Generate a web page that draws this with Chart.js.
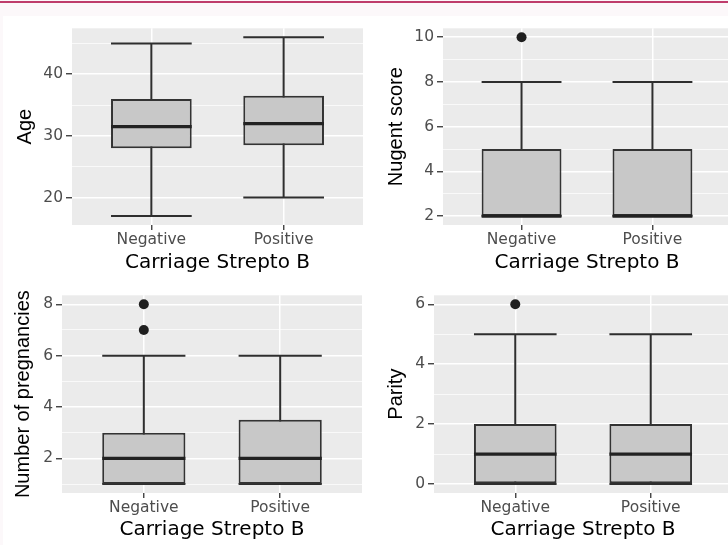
<!DOCTYPE html>
<html>
<head>
<meta charset="utf-8">
<script src="https://cdn.jsdelivr.net/npm/chart.js@4.4.1/dist/chart.umd.min.js"></script>
<style>
  html, body { margin: 0; padding: 0; }
  body { width: 728px; height: 545px; overflow: hidden; background: #fcf8fa; position: relative; }
  .topline { position: absolute; left: 0; top: 1px; width: 728px; height: 2px; background: #bf3d6c; }
  .sheet { position: absolute; left: 3px; top: 16px; width: 725px; height: 529px; background: #fff; }
  canvas { position: absolute; }
</style>
</head>
<body>
<div class="topline"></div>
<div class="sheet"></div>
<canvas id="age"></canvas>
<canvas id="nugent"></canvas>
<canvas id="preg"></canvas>
<canvas id="parity"></canvas>
<script>
const categories = ['Negative', 'Positive'];
const xTitle = 'Carriage Strepto B';

// Age
const ageLow = [17, 20];
const ageQ1 = [28, 28.5];
const ageMedian = [31.5, 32];
const ageQ3 = [36, 36.5];
const ageHigh = [45, 46];
const ageOutliers = [[], []];
const ageTicks = [20, 30, 40];

// Nugent score
const nugentLow = [2, 2];
const nugentQ1 = [2, 2];
const nugentMedian = [2, 2];
const nugentQ3 = [5, 5];
const nugentHigh = [8, 8];
const nugentOutliers = [[10], []];
const nugentTicks = [2, 4, 6, 8, 10];

// Number of pregnancies
const pregLow = [1, 1];
const pregQ1 = [1, 1];
const pregMedian = [2, 2];
const pregQ3 = [3, 3.5];
const pregHigh = [6, 6];
const pregOutliers = [[7, 8], []];
const pregTicks = [2, 4, 6, 8];

// Parity
const parityLow = [0, 0];
const parityQ1 = [0, 0];
const parityMedian = [1, 1];
const parityQ3 = [2, 2];
const parityHigh = [5, 5];
const parityOutliers = [[6], []];
const parityTicks = [0, 2, 4, 6];

const tickFont = { family: "'DejaVu Sans', sans-serif", size: 15.5 };
const titleFontX = { family: "'DejaVu Sans', sans-serif", size: 20 };
const titleFontY = { family: "'Liberation Sans', Arial, sans-serif", size: 20 };

const boxParts = {
  id: 'boxParts',
  beforeDraw(chart) {
    const a = chart.chartArea;
    const c = chart.ctx;
    c.save();
    c.fillStyle = '#ebebeb';
    c.fillRect(a.left, a.top, a.width, a.height);
    c.restore();
  },
  beforeDatasetsDraw(chart, args, opts) {
    const c = chart.ctx;
    const y = chart.scales.y;
    const bars = chart.getDatasetMeta(0).data;
    c.save();
    c.strokeStyle = '#2e2e2e';
    c.lineWidth = 2;
    bars.forEach((bar, i) => {
      const half = bar.width / 2;
      const yl = y.getPixelForValue(opts.low[i]);
      const yh = y.getPixelForValue(opts.high[i]);
      c.beginPath();
      c.moveTo(bar.x, yl); c.lineTo(bar.x, yh);
      c.moveTo(bar.x - half, yl); c.lineTo(bar.x + half, yl);
      c.moveTo(bar.x - half, yh); c.lineTo(bar.x + half, yh);
      c.stroke();
    });
    c.restore();
  },
  afterDatasetDraw(chart, args, opts) {
    if (args.index !== 0) return;
    const c = chart.ctx;
    const y = chart.scales.y;
    c.save();
    c.strokeStyle = '#222222';
    c.lineWidth = 3.2;
    chart.getDatasetMeta(0).data.forEach((bar, i) => {
      const half = bar.width / 2;
      const ym = y.getPixelForValue(opts.median[i]);
      c.beginPath();
      c.moveTo(bar.x - half, ym); c.lineTo(bar.x + half, ym);
      c.stroke();
    });
    c.restore();
  }
};

function boxChart(id, g, s, majors, yTitle) {
  const canvas = document.getElementById(id);
  canvas.width = g.w; canvas.height = g.h;
  canvas.style.left = g.left + 'px';
  canvas.style.top = g.top + 'px';

  // ggplot style 5% expansion over all drawn values
  const all = s.low.concat(s.high, ...s.out);
  const lo = Math.min(...all), hi = Math.max(...all);
  const pad = (hi - lo) * 0.05;
  const yMin = lo - pad, yMax = hi + pad;

  const step = majors[1] - majors[0];
  const yTicks = [];
  for (let v = majors[0] - step / 2; v <= majors[majors.length - 1] + step / 2 + 1e-9; v += step / 2) {
    if (v >= yMin && v <= yMax) yTicks.push(v);
  }
  const isMajor = (v) => majors.some(m => Math.abs(m - v) < 1e-9);

  const boxData = categories.map((c, i) => ({ x: i + 1, y: [s.q1[i], s.q3[i]] }));
  const outData = [];
  s.out.forEach((list, i) => list.forEach(v => outData.push({ x: i + 1, y: v })));

  return new Chart(canvas, {
    type: 'bar',
    data: {
      datasets: [{
        data: boxData,
        backgroundColor: '#c8c8c8',
        borderColor: '#333333',
        borderWidth: 2,
        borderSkipped: false,
        categoryPercentage: 1,
        barPercentage: 0.61
      }, {
        type: 'scatter',
        data: outData,
        pointRadius: 5,
        pointBackgroundColor: '#1f1f1f',
        pointBorderWidth: 0
      }]
    },
    options: {
      responsive: false,
      animation: false,
      events: [],
      layout: { padding: { left: 0, top: g.area.t - g.top, right: g.left + g.w - g.area.r, bottom: 0 } },
      plugins: {
        legend: { display: false },
        tooltip: { enabled: false },
        boxParts: { low: s.low, high: s.high, median: s.median }
      },
      scales: {
        x: {
          type: 'linear',
          offset: false,
          min: 0.4,
          max: 2.6,
          afterBuildTicks: (sc) => { sc.ticks = categories.map((c, i) => ({ value: i + 1 })); },
          afterFit: (sc) => { sc.height = g.top + g.h - g.area.b; },
          border: { display: false },
          grid: { offset: false, color: '#ffffff', lineWidth: 1.5, tickColor: '#333333', tickLength: 5, tickWidth: 1.3 },
          ticks: {
            autoSkip: false,
            maxRotation: 0,
            padding: 1,
            color: '#4d4d4d',
            font: tickFont,
            callback: (v) => categories[Math.round(v) - 1]
          },
          title: { display: true, text: xTitle, color: '#000000', font: titleFontX, padding: { top: 0, bottom: 0 } }
        },
        y: {
          min: yMin,
          max: yMax,
          afterBuildTicks: (sc) => { sc.ticks = yTicks.map(v => ({ value: v })); },
          afterFit: (sc) => { sc.width = g.area.l - g.left; },
          border: { display: false },
          grid: {
            color: '#ffffff',
            lineWidth: (ctx) => (ctx.tick && isMajor(ctx.tick.value)) ? 1.5 : 0.7,
            tickColor: (ctx) => (ctx.tick && isMajor(ctx.tick.value)) ? '#333333' : 'rgba(0,0,0,0)',
            tickLength: 6,
            tickWidth: 1.3
          },
          ticks: {
            autoSkip: false,
            padding: 3,
            color: '#4d4d4d',
            font: tickFont,
            callback: (v) => isMajor(v) ? String(Math.round(v)) : ''
          },
          title: { display: true, text: yTitle, color: '#000000', font: titleFontY, padding: { top: g.titleX - g.left - 12, bottom: 0 } }
        }
      }
    },
    plugins: [boxParts]
  });
}

boxChart('age',
  { left: 3, top: 16, w: 362, h: 259, area: { l: 72, t: 27, r: 363, b: 225 }, titleX: 25 },
  { low: ageLow, q1: ageQ1, median: ageMedian, q3: ageQ3, high: ageHigh, out: ageOutliers },
  ageTicks, 'Age');

boxChart('nugent',
  { left: 370, top: 16, w: 366, h: 259, area: { l: 443, t: 27, r: 734, b: 225 }, titleX: 396 },
  { low: nugentLow, q1: nugentQ1, median: nugentMedian, q3: nugentQ3, high: nugentHigh, out: nugentOutliers },
  nugentTicks, 'Nugent score');

boxChart('preg',
  { left: 3, top: 283, w: 364, h: 259, area: { l: 62, t: 294, r: 365, b: 493 }, titleX: 23 },
  { low: pregLow, q1: pregQ1, median: pregMedian, q3: pregQ3, high: pregHigh, out: pregOutliers },
  pregTicks, 'Number of pregnancies');

boxChart('parity',
  { left: 370, top: 283, w: 367, h: 259, area: { l: 434, t: 294, r: 735, b: 493 }, titleX: 396 },
  { low: parityLow, q1: parityQ1, median: parityMedian, q3: parityQ3, high: parityHigh, out: parityOutliers },
  parityTicks, 'Parity');
</script>
</body>
</html>
